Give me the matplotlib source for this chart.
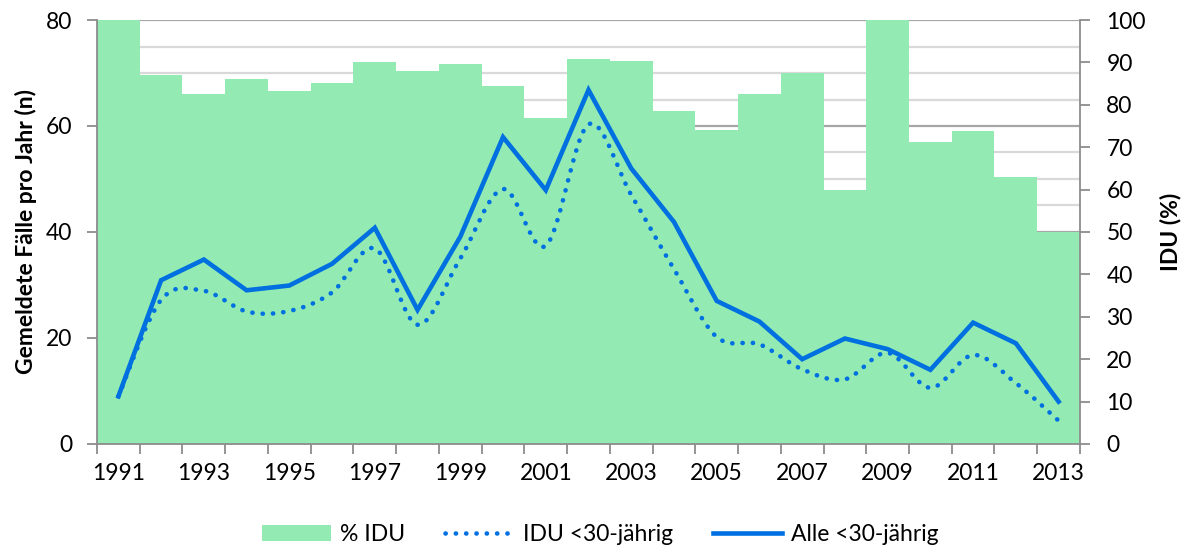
import numpy as np
import matplotlib
matplotlib.use("Agg")
import matplotlib.pyplot as plt
from matplotlib.path import Path
from matplotlib.patches import PathPatch, Patch
from matplotlib.lines import Line2D

# ---------------------------------------------------------------
# data
# ---------------------------------------------------------------
years = list(range(1991, 2014))
idu_pct = [100, 87, 82.6, 86.1, 83.3, 85.2, 90.1, 87.9, 89.6, 84.4, 77.0, 90.9,
           90.3, 78.5, 74.1, 82.5, 87.4, 59.8, 100, 71.3, 73.8, 63.0, 50.0]
idu_u30 = [9, 27.2, 28.9, 25.0, 25.1, 28.6, 36.9, 22.5, 35.0, 48.1, 37.4, 60.3,
           47.0, 33.0, 20.2, 18.8, 14.1, 12.2, 17.2, 10.6, 16.8, 11.5, 4.4]
alle_u30 = [9, 30.9, 34.8, 29.0, 29.9, 34.0, 40.8, 25.3, 39.1, 57.9, 47.9, 66.8,
            52.0, 41.9, 27.0, 23.1, 16.0, 19.9, 17.9, 14.0, 22.9, 19.0, 8.0]
label_years = years[::2]

green = "#93EBB3"
blue = "#0070E0"
axis_grey = "#8C8C8C"

plt.rcParams["font.family"] = ["Lato", "DejaVu Sans"]
fs = 16.5

fig = plt.figure(figsize=(11.89, 5.51), dpi=100)
ax = fig.add_axes([0.0816, 0.1942, 0.8267, 0.7695])
ax2 = ax.twinx()
ax.set_zorder(2)
ax.patch.set_visible(False)

# ---------------------------------------------------------------
# bars (% IDU) on the right axis, gridlines underneath
# ---------------------------------------------------------------
for v in range(0, 81, 5):
    major = v % 20 == 0
    ax2.axhline(v * 100 / 80, color="#A6A6A6" if major else "#D9D9D9",
                lw=1.6, zorder=0.5)
ax2.bar(years, idu_pct, width=1.0, color=green, zorder=2)
ax2.set_ylim(0, 100)
ax2.set_yticks(range(0, 101, 10))

# ---------------------------------------------------------------
# lines on the left axis
# ---------------------------------------------------------------
ax.plot(years, alle_u30, color=blue, lw=3.3, solid_joinstyle="miter", zorder=4)

# smoothed dotted curve (catmull-rom -> cubic bezier)
pts = np.column_stack([years, idu_u30]).astype(float)
ext = np.vstack([pts[0], pts, pts[-1]])
verts = [pts[0]]
codes = [Path.MOVETO]
for i in range(1, len(ext) - 2):
    p0, p1, p2, p3 = ext[i - 1], ext[i], ext[i + 1], ext[i + 2]
    verts += [p1 + (p2 - p0) / 6, p2 - (p3 - p1) / 6, p2]
    codes += [Path.CURVE4] * 3
dotted = PathPatch(Path(verts, codes), fill=False, edgecolor=blue, lw=3.3,
                   linestyle=(0, (0.05, 2.2)), capstyle="round", zorder=3)
ax.add_patch(dotted)

ax.set_ylim(0, 80)
ax.set_yticks(range(0, 81, 20))
ax.set_xlim(1990.5, 2013.5)

# category boundaries get the tick marks, labels sit in the middle
ax.set_xticks(np.arange(1990.5, 2014, 1))
ax.set_xticklabels([])
ax.set_xticks(label_years, minor=True)
ax.set_xticklabels([str(y) for y in label_years], minor=True)

ax.tick_params(axis="x", which="major", length=7, width=1.3, color=axis_grey)
ax.tick_params(axis="x", which="minor", length=0, pad=14, labelsize=fs)
ax.tick_params(axis="y", length=7, width=1.3, color=axis_grey, pad=11, labelsize=fs)
ax2.tick_params(axis="y", length=7, width=1.3, color=axis_grey, pad=12, labelsize=fs)

for s in ["top", "right"]:
    ax.spines[s].set_visible(False)
for s in ["top", "left", "bottom"]:
    ax2.spines[s].set_visible(False)
for sp in [ax.spines["left"], ax.spines["bottom"], ax2.spines["right"]]:
    sp.set_color(axis_grey)
    sp.set_linewidth(1.3)

ax.set_ylabel("Gemeldete Fälle pro Jahr (n)", fontsize=fs, fontweight="bold", labelpad=6)
ax2.set_ylabel("IDU (%)", fontsize=fs, fontweight="bold", labelpad=10)

handles = [
    Patch(facecolor=green, edgecolor="none"),
    Line2D([], [], color=blue, lw=3.3, linestyle=(0, (0.05, 2.2)),
           dash_capstyle="round"),
    Line2D([], [], color=blue, lw=3.3),
]
fig.legend(handles, ["% IDU", "IDU <30-jährig", "Alle <30-jährig"],
           loc="center", bbox_to_anchor=(0.505, 0.03), ncol=3, frameon=False,
           fontsize=fs, handlelength=3.0, handleheight=0.75,
           handletextpad=0.4, columnspacing=1.75)

fig.savefig("out.png", dpi=100)
